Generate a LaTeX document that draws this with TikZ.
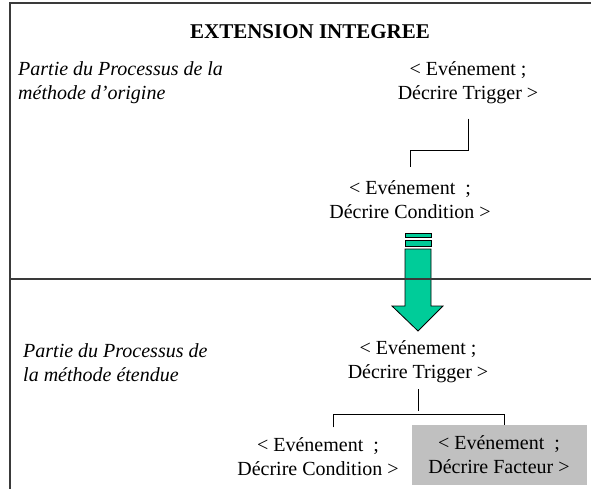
\documentclass[tikz,border=0pt]{standalone}
\usepackage{fontspec}
\setmainfont{Liberation Serif}
\definecolor{flowgreen}{HTML}{00CC99}
\definecolor{boxgray}{HTML}{C0C0C0}
\definecolor{rulegray}{HTML}{3A3A3A}

\begin{document}
\begin{tikzpicture}[
  x=1pt, y=-1pt,
  frameline/.style={rulegray, line width=1.2pt},
  link/.style={black, line width=1pt},
  event/.style={align=center, inner sep=0pt, font=\fontsize{20}{24}\selectfont},
  part/.style={align=left, anchor=west, inner sep=0pt, font=\fontsize{20}{24}\selectfont\itshape},
  flow/.style={draw=black, fill=flowgreen, line width=0.8pt},
]
\useasboundingbox (0,0) rectangle (591,489);

% ===== frame =====
\draw[frameline] (591,3) -- (10,3) -- (10,489);

% ===== title =====
\node[font=\fontsize{21}{24}\selectfont\bfseries] (title) at (310,32) {EXTENSION INTEGREE};

% ===== upper part: original method =====
\node[part] (partorig) at (18,82.5) {Partie du Processus de la\\méthode d’origine};
\node[event, outer ysep=15pt] (trigorig) at (468,82.5) {< Evénement ;\\Décrire Trigger >};
\node[event, outer ysep=14pt] (condorig) at (410,200) {< Evénement \ ;\\Décrire Condition >};
\draw[link] (trigorig.south) -- ++(0,32) -| (condorig.north);

% ===== green arrow =====
\draw[flow] (405,233) rectangle (431,237);
\draw[flow] (405,240) rectangle (431,246);
\draw[flow] (405,249) -- (431,249) -- (431,306) -- (443,306) -- (418,331)
  -- (392,306) -- (405,306) -- cycle;

% separation line
\draw[frameline] (10,279) -- (591,279);

% ===== lower part: extended method =====
\node[part] (partext) at (23,363) {Partie du Processus de\\la méthode étendue};
\node[event, outer ysep=6pt] (trigext) at (418,362) {< Evénement ;\\Décrire Trigger >};
\node[event, outer ysep=10pt] (condext) at (318,456.5) {< Evénement \ ;\\Décrire Condition >};
\node[event, fill=boxgray, minimum width=175pt, minimum height=60pt] (factext) at (499,455)
  {< Evénement \ ;\\Décrire Facteur >};

\draw[link] (trigext.south) -- ++(0,22);
\draw[link] ([xshift=15pt]condext.north) -- ++(0,-13) -| ([xshift=5pt]factext.north);

\end{tikzpicture}
\end{document}
